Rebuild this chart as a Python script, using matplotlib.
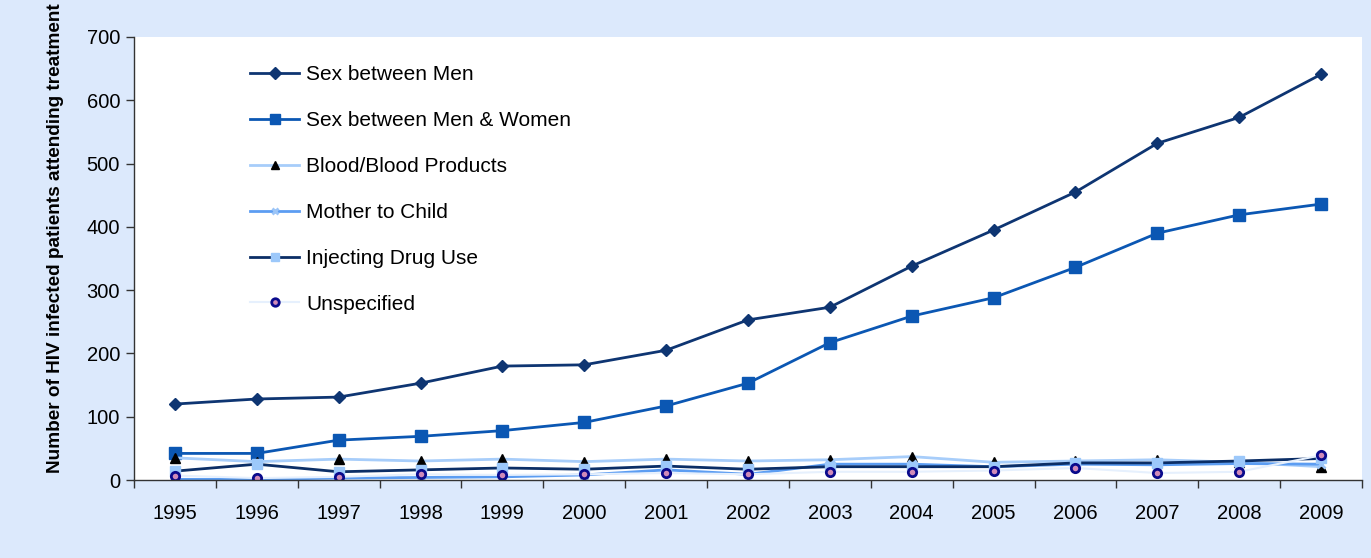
import matplotlib.pyplot as plt

plt.rcParams['font.family'] = ['Liberation Sans', 'DejaVu Sans']

years = ['1995', '1996', '1997', '1998', '1999', '2000', '2001', '2002',
         '2003', '2004', '2005', '2006', '2007', '2008', '2009']

sex_men = [120, 128, 131, 153, 180, 182, 205, 253, 273, 338, 395, 455, 532, 573, 641]
sex_men_women = [42, 42, 63, 69, 78, 91, 117, 153, 217, 259, 288, 336, 390, 419, 436]
blood = [35, 29, 33, 30, 33, 29, 33, 30, 32, 37, 28, 30, 32, 28, 21]
mother_child = [1, 1, 3, 4, 5, 8, 16, 9, 25, 25, 21, 25, 24, 26, 25]
drug_use = [14, 25, 13, 16, 19, 17, 22, 17, 21, 21, 21, 27, 27, 30, 34]
unspecified = [7, 3, 5, 9, 8, 9, 11, 9, 13, 13, 15, 19, 11, 13, 39]

BG = '#DCE9FC'

fig = plt.figure(figsize=(13.71, 5.58), dpi=100, facecolor=BG)
ax = fig.add_axes([134 / 1371, 78 / 558, 1228 / 1371, 443 / 558])
ax.set_facecolor('white')

x = list(range(len(years)))

ax.plot(x, sex_men, color='#0E3572', lw=2.0, marker='D', ms=6.5,
        mfc='#0E3572', mec='#0E3572', label='Sex between Men')
ax.plot(x, sex_men_women, color='#0B57B3', lw=2.0, marker='s', ms=8,
        mfc='#0B57B3', mec='#0B57B3', label='Sex between Men & Women')
ax.plot(x, blood, color='#A7CDFA', lw=2.0, marker='^', ms=6.5,
        mfc='black', mec='black', label='Blood/Blood Products')
ax.plot(x, mother_child, color='#5C9DF2', lw=2.0, marker='x', ms=5.5,
        mew=2, mfc='#9CC5F7', mec='#9CC5F7', label='Mother to Child')
ax.plot(x, drug_use, color='#0B2E66', lw=2.0, marker='s', ms=7,
        mfc='#9CC8FA', mec='#9CC8FA', label='Injecting Drug Use')
ax.plot(x, unspecified, color='#E6F0FD', lw=1.5, marker='o', ms=6,
        mfc='#D08AB8', mec='#0A0A8C', mew=2.0, label='Unspecified')

ax.set_xlim(-0.5, len(years) - 0.5)
ax.set_ylim(0, 700)
ax.set_yticks(range(0, 701, 100))
ax.set_xticks(x)
ax.set_xticklabels(years)
ax.set_xticks([i - 0.5 for i in range(len(years) + 1)], minor=True)
ax.tick_params(axis='x', which='major', length=0, labelsize=14.5, pad=17)
ax.tick_params(axis='x', which='minor', length=6, width=1, color='#333333', direction='out')
ax.tick_params(axis='y', length=6, width=1, color='#333333', labelsize=14.5, pad=4)

for side in ('top', 'right'):
    ax.spines[side].set_visible(False)
for side in ('left', 'bottom'):
    ax.spines[side].set_color('#333333')
    ax.spines[side].set_linewidth(1)

fig.text(56 / 1371, 1 - 238 / 558, 'Number of HIV infected patients attending treatment',
         rotation=90, ha='center', va='center', fontsize=13.7, fontweight='bold')

leg = ax.legend(loc='upper left', bbox_to_anchor=(242 / 1371, 1 - 57 / 558),
                bbox_transform=fig.transFigure, frameon=False, fontsize=15,
                labelspacing=1.29, handlelength=2.35, handletextpad=0.33,
                borderaxespad=0, markerscale=0.9)

fig.savefig('out.png', dpi=100, facecolor=BG)
